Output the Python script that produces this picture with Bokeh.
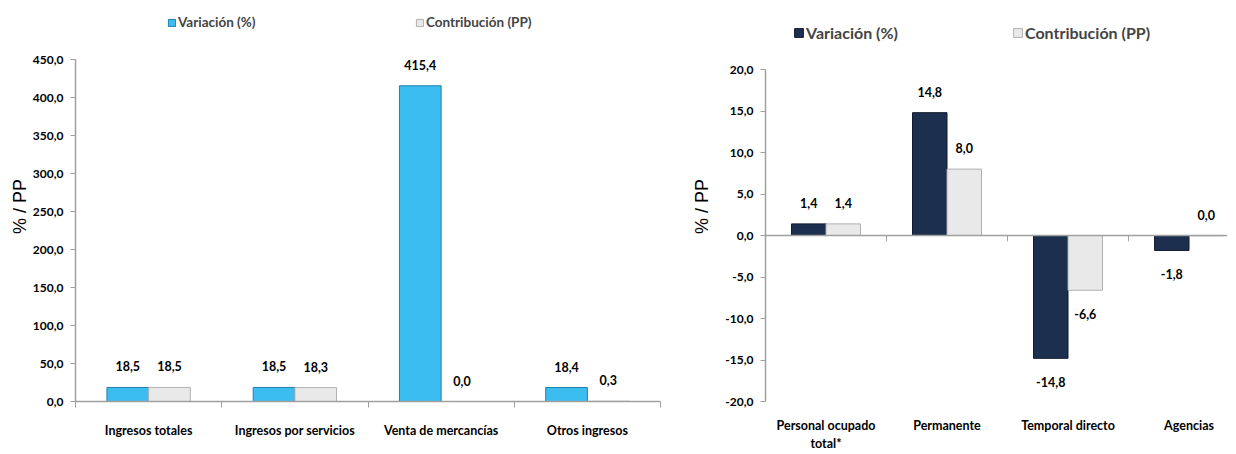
from bokeh.plotting import figure
from bokeh.models import (FixedTicker, CustomJSTickFormatter, Legend, LegendItem, Span,
                          ColumnDataSource, Range1d)
from bokeh.layouts import row
from bokeh.core.properties import value
from bokeh.embed import file_html
from bokeh.resources import INLINE

# ---------------- data ----------------
left_categories = ["Ingresos totales", "Ingresos por servicios", "Venta de mercancías", "Otros ingresos"]
left_variacion = [18.5, 18.5, 415.4, 18.4]
left_contribucion = [18.5, 18.3, 0.0, 0.3]
left_y_ticks = [0, 50, 100, 150, 200, 250, 300, 350, 400, 450]

right_categories = ["Personal ocupado\ntotal*", "Permanente", "Temporal directo", "Agencias"]
right_variacion = [1.4, 14.8, -14.8, -1.8]
right_contribucion = [1.4, 8.0, -6.6, -0.04]
right_y_ticks = [-20, -15, -10, -5, 0, 5, 10, 15, 20]

series_names = ["Variación (%)", "Contribución (PP)"]
axis_title = "% / PP"

FONT = "Lato"
GREY_FILL, GREY_LINE = "#E9E9E9", "#B0B0B0"
AXIS_GREY = "#A0A0A0"

FRAME_H = 390
AXIS_PX = 332


def fmt(v):
    s = f"{v:.1f}"
    if s == "-0.0":
        s = "0.0"
    return s.replace(".", ",")


def make_chart(categories, var, con, yticks, y_end, x_end, var_fill, var_line,
               frame_w, borders, legend_pos, legend_font, glyph_sz,
               zero_line, ylabel_standoff, cat_standoff):
    n = len(categories)
    bw = 0.285
    p = figure(output_backend="svg", toolbar_location=None,
               frame_width=frame_w, frame_height=FRAME_H,
               x_range=Range1d(0, x_end), y_range=Range1d(yticks[0], y_end),
               min_border_left=borders[0], min_border_right=borders[1],
               min_border_top=borders[2], min_border_bottom=borders[3],
               background_fill_color="white", border_fill_color="white")
    p.outline_line_color = None
    p.xgrid.visible = False
    p.ygrid.visible = False

    xs_var = [i + 0.5 - bw / 2 for i in range(n)]
    xs_con = [i + 0.5 + bw / 2 for i in range(n)]

    r_var = p.vbar(x=xs_var, top=var, bottom=0, width=bw,
                   fill_color=var_fill, line_color=var_line, line_width=1)
    r_con = p.vbar(x=xs_con, top=con, bottom=0, width=bw,
                   fill_color=GREY_FILL, line_color=GREY_LINE, line_width=1)

    if zero_line:
        p.add_layout(Span(location=0, dimension="width", line_color=AXIS_GREY, line_width=1.5))
        bx = list(range(1, n))
        p.segment(x0=bx, x1=bx, y0=[0] * len(bx), y1=[-0.7] * len(bx),
                  line_color=AXIS_GREY, line_width=1)

    vals = list(var) + list(con)
    src = ColumnDataSource(dict(
        x=xs_var + xs_con,
        y=vals,
        label=[fmt(v) for v in vals],
        off=[-21 if round(v, 1) >= 0 else 24 for v in vals],
    ))
    p.text(x="x", y="y", text="label", source=src, y_offset="off",
           text_align="center", text_baseline="middle",
           text_font=value(FONT), text_font_style="bold", text_font_size="12.5px",
           text_color="black")

    # y axis
    yax = p.yaxis[0]
    yax.ticker = FixedTicker(ticks=yticks)
    yax.bounds = (yticks[0], yticks[-1])
    yax.formatter = CustomJSTickFormatter(code="return tick.toFixed(1).replace('.', ',');")
    yax.axis_line_color = AXIS_GREY
    yax.axis_line_width = 1.5
    yax.major_tick_line_color = AXIS_GREY
    yax.major_tick_out = 5
    yax.major_tick_in = 0
    yax.minor_tick_line_color = None
    yax.major_label_standoff = 7
    yax.major_label_text_font = FONT
    yax.major_label_text_font_style = "bold"
    yax.major_label_text_font_size = "12px"
    yax.major_label_text_color = "black"
    yax.axis_label = axis_title
    yax.axis_label_text_font = "Liberation Sans"
    yax.axis_label_text_font_style = "normal"
    yax.axis_label_text_font_size = "18px"
    yax.axis_label_text_color = "black"
    yax.axis_label_standoff = ylabel_standoff

    # x axis
    xax = p.xaxis[0]
    centers = [i + 0.5 for i in range(n)]
    xax.ticker = FixedTicker(ticks=centers, minor_ticks=list(range(n + 1)))
    xax.major_label_overrides = {c: lab for c, lab in zip(centers, categories)}
    xax.major_tick_line_color = None
    xax.major_tick_out = 0
    xax.major_tick_in = 0
    xax.major_label_standoff = cat_standoff
    xax.major_label_text_font = FONT
    xax.major_label_text_font_style = "bold"
    xax.major_label_text_font_size = "12.5px"
    xax.major_label_text_color = "black"
    if zero_line:
        xax.axis_line_color = None
        xax.minor_tick_line_color = None
    else:
        xax.axis_line_color = AXIS_GREY
        xax.axis_line_width = 1.5
        xax.minor_tick_line_color = AXIS_GREY
        xax.minor_tick_out = 6
        xax.minor_tick_in = 0

    # legends (one per item, positioned independently inside the frame's top strip)
    for rend, name, pos in zip([r_var, r_con], series_names, legend_pos):
        lg = Legend(items=[LegendItem(label=name, renderers=[rend])],
                    location=pos, orientation="horizontal",
                    glyph_width=glyph_sz, glyph_height=glyph_sz, label_standoff=2,
                    label_text_font=FONT, label_text_font_style="bold",
                    label_text_font_size=legend_font, label_height=glyph_sz,
                    padding=0, margin=0, border_line_color=None,
                    background_fill_alpha=0)
        p.add_layout(lg)
    return p


left_y_end = 450 + 48 * 450 / 342
right_y_end = 20 + 58 * 40 / AXIS_PX

p1 = make_chart(left_categories, left_variacion, left_contribucion, left_y_ticks, left_y_end, 4.0,
                "#3CBDF0", "#1E7FB0", 585, (75, 29, 11, 44),
                [(92, 371), (340, 371)], "13.5px", 9, False, 0, 15)
p2 = make_chart(right_categories, right_variacion, right_contribucion, right_y_ticks, right_y_end, 3.818,
                "#1C2F4F", "#0F1B2E", 462, (73, 3, 11, 44),
                [(28, 359), (247, 359)], "16px", 11, True, 10, 12)

layout = row(p1, p2)
open("out.html", "w").write(file_html(layout, INLINE))
